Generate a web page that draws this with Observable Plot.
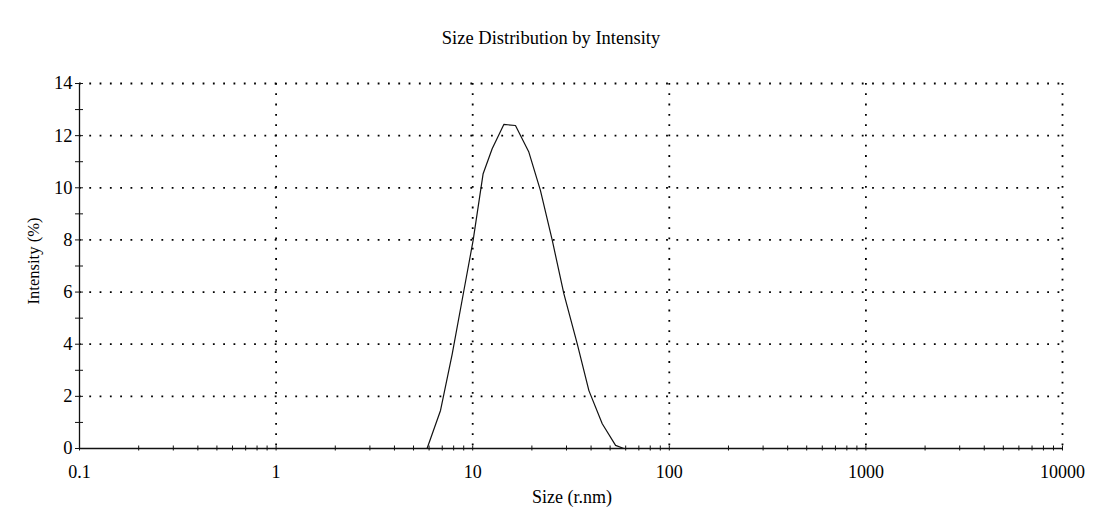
<!DOCTYPE html>
<html><head><meta charset="utf-8">
<script src="https://cdn.jsdelivr.net/npm/d3@7"></script>
<script src="https://cdn.jsdelivr.net/npm/@observablehq/plot@0.6"></script>
<style>body{margin:0;background:#fff}</style>
</head><body><div id="chart"></div>
<script>
const sizes = [0.2, 5.86, 6.86, 7.87, 9.02, 10.05, 11.3, 12.56, 14.4, 16.5, 19.3, 22.1, 25.4, 29.1, 34.0, 39.0, 45.6, 53.3, 58.7, 10000];
const intensity = [0, 0, 1.46, 3.63, 6.06, 7.98, 10.54, 11.5, 12.43, 12.39, 11.37, 9.9, 7.98, 5.93, 4.02, 2.22, 0.95, 0.12, 0, 0];
const xTicks = [0.1, 1, 10, 100, 1000, 10000];
const xTickLabels = ["0.1", "1", "10", "100", "1000", "10000"];
const xMinor = [0.1,0.2,0.3,0.4,0.5,0.6,0.7,0.8,0.9,1,2,3,4,5,6,7,8,9,10,20,30,40,50,60,70,80,90,100,200,300,400,500,600,700,800,900,1000,2000,3000,4000,5000,6000,7000,8000,9000,10000];
const xGrid = [1, 10, 100, 1000, 10000];
const yTicks = [0, 2, 4, 6, 8, 10, 12, 14];
const yGrid = [2, 4, 6, 8, 10, 12, 14];
const yMinor = [0,1,2,3,4,5,6,7,8,9,10,11,12,13,14];
const title = "Size Distribution by Intensity";
const xLabel = "Size (r.nm)";
const yLabel = "Intensity (%)";

const data = sizes.map((s, i) => ({size: s, value: intensity[i]}));
const font = "'Liberation Serif', 'Times New Roman', serif";
const dots = {stroke: "#000", strokeOpacity: 1, strokeWidth: 1.8, strokeDasharray: "1.8,8.5"};

const chart = Plot.plot({
  width: 1108,
  height: 520,
  marginLeft: 79,
  marginRight: 46,
  marginTop: 83,
  marginBottom: 72,
  style: {fontFamily: font, fontSize: "18px", color: "#000", background: "#fff"},
  x: {type: "log", domain: [0.1, 10000]},
  y: {domain: [0, 14]},
  marks: [
    Plot.gridY(yGrid, dots),
    Plot.gridX(xGrid, dots),
    Plot.ruleX([0.1], {y1: 0, y2: 14, stroke: "#111", strokeWidth: 1.3}),
    Plot.ruleY([0], {stroke: "#111", strokeWidth: 1.6}),
    Plot.axisX({ticks: xMinor, tickSize: 5, dy: -2.5, tickFormat: () => "", label: null, stroke: "#111"}),
    Plot.axisX({ticks: xTicks, tickSize: 0, tickPadding: 17, tickFormat: d => xTickLabels[xTicks.indexOf(d)], label: null, fontSize: 18, fontFamily: font, fill: "#000"}),
    Plot.axisY({ticks: yMinor, tickSize: 8, dx: 4, tickFormat: () => "", label: null, stroke: "#111"}),
    Plot.axisY({ticks: yTicks, tickSize: 0, tickPadding: 7, label: null, fontSize: 18.5, fontFamily: font, fill: "#000"}),
    Plot.line(data, {x: "size", y: "value", stroke: "#111", strokeWidth: 1.2}),
    Plot.text([title], {frameAnchor: "top", dy: -53, dx: -20, fontSize: 18.5, fontFamily: font, fill: "#000"}),
    Plot.text([xLabel], {frameAnchor: "bottom", dy: 54, dx: 1, fontSize: 18, fontFamily: font, fill: "#000"}),
    Plot.text([yLabel], {frameAnchor: "left", textAnchor: "middle", dx: -46, dy: -5, rotate: -90, fontSize: 16.6, fontFamily: font, fill: "#000"})
  ]
});
document.getElementById("chart").appendChild(chart);
</script>
</body></html>
